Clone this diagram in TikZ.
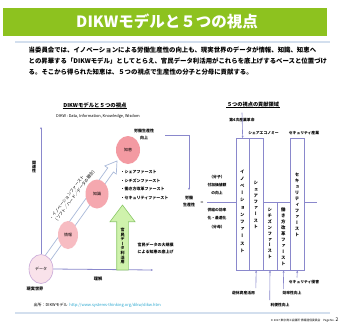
\documentclass[tikz,border=0pt]{standalone}
\usepackage{fontspec}
\setmainfont{Noto Sans CJK JP}
\newfontfamily\vfont[RawFeature=+vert]{Noto Sans CJK JP}
\usetikzlibrary{arrows.meta,shapes.geometric}
\definecolor{titlegreen}{HTML}{8DC21F}
\definecolor{sepblue}{HTML}{D3DFEE}
\definecolor{axisblue}{HTML}{8A88CC}
\definecolor{arrowgray}{HTML}{A9B9D9}
\definecolor{pinkA}{HTML}{F39AA2}
\definecolor{pinkB}{HTML}{F5A8AF}
\definecolor{pinkC}{HTML}{F7BCC2}
\definecolor{pinkD}{HTML}{F9E2EA}
\definecolor{dataline}{HTML}{C8A8D8}
\definecolor{greenfill}{HTML}{CFF2AC}
\definecolor{greenline}{HTML}{8CC86A}
\definecolor{urlblue}{HTML}{2AA8D0}
\ExplSyntaxOn
\NewDocumentCommand\vstack{O{6}m}{
  \vbox{\vfont\baselineskip=#1pt\lineskiplimit=-100pt\lineskip=0pt
    \tl_map_inline:nn {#2}{\hbox_to_wd:nn{1em}{\hss ##1 \hss}}}}
\ExplSyntaxOff
\newcommand\fs[2]{\fontsize{#1}{#2}\selectfont}
\begin{document}
\begin{tikzpicture}[x=1pt,y=-1pt,
  every node/.style={inner sep=0.5pt, text=black},
  para/.style={anchor=west, font=\bfseries\fs{6.4}{7}},
  tiny/.style={font=\fs{4}{5}},
  ell/.style={ellipse, inner sep=0pt, font=\fs{4}{5}},
  axis/.style={draw=axisblue, line width=0.8pt},
  frame/.style={draw=axisblue, line width=0.6pt},
  colbox/.style={frame, fill=white, inner sep=0pt, font=\fs{4.6}{5}},
  tip/.style={-{Stealth[length=2.2pt,width=2pt]}}
]
\useasboundingbox (0,0) rectangle (342,327);
\fill[white] (0,0) rectangle (342,327);

% title bar
\node[fill=titlegreen, minimum width=324, minimum height=28, anchor=north west] (bar) at (3,8) {};
\node[text=white, font=\bfseries\fs{15.5}{16}] (title) at (167,21.5) {DIKWモデルと５つの視点};
\draw[sepblue, line width=1.6pt] (15,42) -- (330,42);

% paragraph
\node[para] (p1) at (28,50) {当委員会では、イノベーションによる労働生産性の向上も、現実世界のデータが情報、知識、知恵へ};
\node[para] (p2) at (28,61) {との昇華する「DIKWモデル」としてとらえ、官民データ利活用がこれらを底上げするベースと位置づけ};
\node[para] (p3) at (28,72) {る。そこから得られた知恵は、５つの視点で生産性の分子と分母に貢献する。};

% left diagram titles
\node[font=\bfseries\fs{5.4}{6}] (lt) at (95,105) {DIKWモデルと５つの視点};
\draw[line width=0.3pt] ([yshift=0.6]lt.south west) -- ([yshift=0.6]lt.south east);
\node[font=\fs{3.9}{4.5}] (ls) at (98,116) {DIKW : Data, Information, Knowledge, Wisdom};

% hollow diagonal arrow
\draw[arrowgray, fill=white, line width=0.7pt, line join=miter]
  (44.85,268.03) -- (113.45,171.98) -- (116.3,174.0) -- (117,161)
  -- (104.9,165.9) -- (107.75,167.92) -- (39.15,263.97) -- cycle;

% ellipses
\node[ell, draw=dataline, line width=0.6pt, fill=pinkD, minimum width=24, minimum height=29] (data) at (41,269) {データ};
\node[ell, fill=pinkC, minimum width=20, minimum height=28] (info) at (68,235) {情報};
\node[ell, fill=pinkB, minimum width=23, minimum height=29] (know) at (97,194) {知識};
\node[ell, fill=pinkA, minimum width=24, minimum height=28] (wis) at (128,150) {知恵};

% axes
\coordinate (vtop) at (41,127);
\coordinate (hend) at (153,270);
\draw[axis, tip] (data.north) -- (vtop);
\draw[axis, tip] (data.east) -- (hend);
\node[font=\bfseries\fs{4}{5}] (kanren) at (34,167) {\vstack[4.4]{関連性}};
\node[font=\bfseries\fs{4.2}{5}] (rikai) at (98,279) {理解};
\node[font=\bfseries\fs{4.2}{5}] (genj) at (35,289) {現実世界};

% diagonal text
\node[rotate=53, align=left, font=\fs{4.2}{5.4}] (inov) at (73,194)
  {・イノベーションファースト\\（ソフト／ハード／データの融合）};

% bullets
\node[anchor=north west, align=left, font=\bfseries\fs{4}{8.5}] (blist) at (120,170)
  {・シェアファースト\\・シチズンファースト\\・働き方改革ファースト\\・セキュリティファースト};

% green arrow
\draw[fill=greenfill, draw=greenline, line width=0.6pt]
  (116.7,270) -- (116.7,221.7) -- (110,221.7) -- (122.5,205) -- (135,221.7)
  -- (128.3,221.7) -- (128.3,270) -- cycle;
\node[font=\bfseries\fs{4}{5}] (kanmin) at (122.5,246) {\vstack[4.6]{官民データ利活用}};
\node[anchor=west, align=left, font=\bfseries\fs{4}{7}] (oote) at (137,248)
  {官民データの大規模\\による知恵の底上げ};

% source
\node[anchor=west, font=\fs{4}{5}] (src) at (33,305)
  {出所：DIKWモデル\ \ \textcolor{urlblue}{http://www.systems-thinking.org/dikw/dikw.htm}};
\draw[sepblue, line width=1.2pt] (15,313) -- (330,313);
\node[anchor=east, font=\fs{2.8}{3}] (foot) at (339,320) {© 2017 東京商工会議所 情報通信委員会\quad Page No. {\fs{5}{5}2}};

% productivity label and connector
\node[align=center, font=\bfseries\fs{4}{6.5}] (kpi) at (144,134.5) {労働生産性\\向上};
\node[align=center, font=\bfseries\fs{4}{7}] (rodo) at (189,201.5) {労働\\生産性};
\coordinate (kpiout) at (165,135);
\coordinate (rodoin) at (189,190);
\draw[frame, tip] (kpiout) -| (rodoin);
\node[font=\fs{5}{5}] (eq) at (202,203) {=};
\node[align=center, font=\bfseries\fs{3.8}{8.2}] (num) at (217,185) {（分子）\\付加価値額\\の向上};
\node[align=center, font=\bfseries\fs{3.8}{8.2}] (den) at (217,218.5) {供給の効率\\化・最適化\\（分母）};

% right diagram
\node[font=\bfseries\fs{5.2}{6}] (rt) at (253,105) {５つの視点の貢献領域};
\draw[line width=0.3pt] ([yshift=0.6]rt.south west) -- ([yshift=0.6]rt.south east);
\coordinate (barL) at (207,202);
\coordinate (barR) at (317,202);
\draw[frame] (barL) -- (barR);
\node[colbox, minimum width=13.3, minimum height=132, anchor=north west] (c1) at (235.7,138) {};
\node[colbox, minimum width=13.7, minimum height=132, anchor=north west] (c2) at (249,138) {};
\node[colbox, minimum width=14, minimum height=68, anchor=north west] (c3) at (262.7,202) {};
\node[colbox, minimum width=13.3, minimum height=68, anchor=north west] (c4) at (276.7,202) {};
\node[colbox, minimum width=14, minimum height=132, anchor=north west] (c5) at (290,138) {};
\node[font=\bfseries\fs{4.4}{5}] (t1) at (242.35,211) {\vstack[7.2]{イノベーションファースト}};
\node[font=\bfseries\fs{4.4}{5}] (t2) at (255.85,205) {\vstack[6.2]{シェアファースト}};
\node[font=\bfseries\fs{4.4}{5}] (t3) at (269.7,233.5) {\vstack[5.9]{シチズンファースト}};
\node[font=\bfseries\fs{4.4}{5}] (t4) at (283.35,236.5) {\vstack[6]{働き方改革ファースト}};
\node[font=\bfseries\fs{4.4}{5}] (t5) at (297,205) {\vstack[6]{セキュリティファースト}};

% top labels
\node[font=\bfseries\fs{3.8}{4}] (dai4) at (242,120) {第4次産業革命};
\draw[frame, tip] ([yshift=10]dai4.south) -- (c1.north);
\node[font=\bfseries\fs{3.8}{4}] (share) at (263.5,133) {シェアエコノミー};
\node[font=\bfseries\fs{3.8}{4}] (secind) at (304,133) {セキュリティ産業};

% bottom labels
\node[font=\bfseries\fs{3.8}{4}] (yukyu) at (243.5,293) {遊休資産活用};
\node[font=\bfseries\fs{3.8}{4}] (riben) at (280,305) {利便性向上};
\node[font=\bfseries\fs{3.8}{4}] (koritsu) at (292,293) {効率性向上};
\node[font=\bfseries\fs{3.8}{4}] (sechai) at (304,282) {セキュリティ侵害};
\coordinate (a2) at (255.85,288);
\coordinate (a3) at (269.7,300);
\coordinate (a4) at (283.35,289);
\coordinate (a5) at (297,277.5);
\draw[frame, tip] (a2) -- (c2.south);
\draw[frame, tip] (a3) -- (c3.south);
\draw[frame, tip] (a4) -- (c4.south);
\draw[frame, tip] (a5) -- (c5.south);
\end{tikzpicture}
\end{document}
